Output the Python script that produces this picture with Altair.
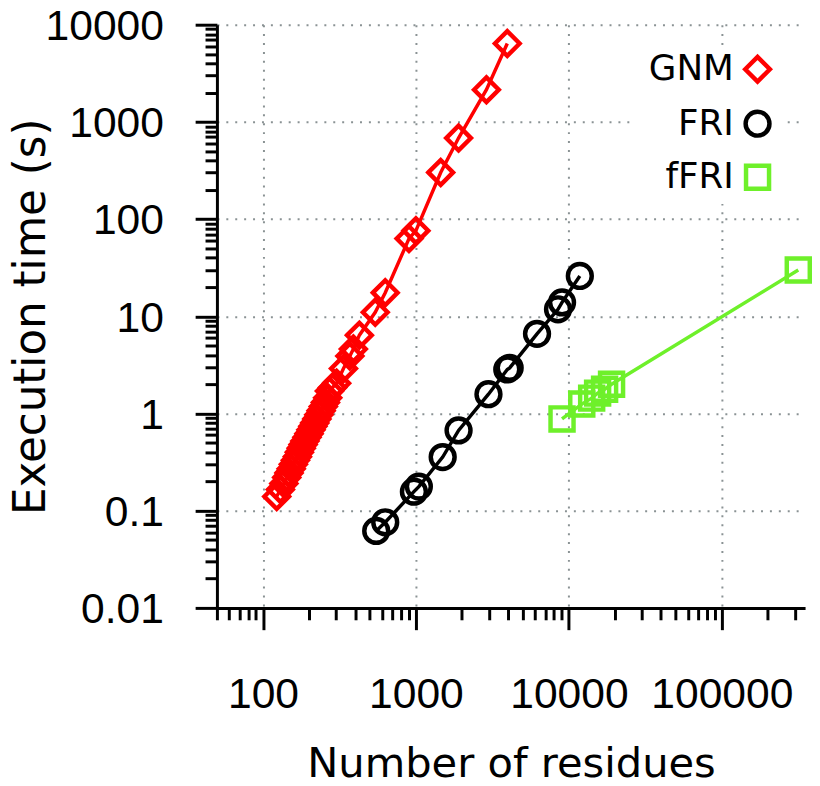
import altair as alt
import pandas as pd

# ---- data ----
series_names = ["GNM", "FRI", "fFRI"]
series_colors = ["#ff0000", "#000000", "#6ef02a"]
series_shapes = ["diamond", "circle", "square"]
series_sizes = [620, 540, 540]

gnm_n = [123, 130, 137, 143, 148, 153, 158, 163, 168, 173, 178, 183, 188, 194, 200,
         206, 212, 218, 225, 232, 240, 248, 256, 265, 272, 285, 303, 336, 370, 390,
         427, 542, 630, 901, 1000, 1452, 1900, 2890, 3955]
gnm_t = [0.14, 0.165, 0.19, 0.22, 0.245, 0.27, 0.30, 0.33, 0.36, 0.40, 0.44, 0.48, 0.52,
         0.57, 0.62, 0.68, 0.74, 0.80, 0.88, 0.97, 1.07, 1.18, 1.30, 1.45, 1.70, 1.85,
         2.05, 2.9, 3.9, 4.6, 6.4, 11, 17.5, 63, 76, 302, 682, 2143, 6410]

fri_n = [550, 630, 970, 1045, 1496, 1900, 2980, 3956, 4100, 6190, 8490, 9020, 11790]
fri_t = [0.062, 0.076, 0.157, 0.177, 0.356, 0.67, 1.58, 2.84, 2.95, 6.6, 11.8, 13.9, 26]

ffri_n = [9020, 12140, 14090, 15410, 17120, 19010, 316000]
ffri_t = [0.88, 1.25, 1.44, 1.62, 1.78, 2.0, 29.9]

x_major = [100, 1000, 10000, 100000]
x_minor = [50, 60, 70, 80, 90,
           200, 300, 400, 500, 600, 700, 800, 900,
           2000, 3000, 4000, 5000, 6000, 7000, 8000, 9000,
           20000, 30000, 40000, 50000, 60000, 70000, 80000, 90000,
           200000, 300000]
y_major = [0.01, 0.1, 1, 10, 100, 1000, 10000]
y_minor = [m * d for d in [0.01, 0.1, 1, 10, 100, 1000] for m in range(2, 10)]

rows = []
for name, ns, ts in [("GNM", gnm_n, gnm_t), ("FRI", fri_n, fri_t), ("fFRI", ffri_n, ffri_t)]:
    for n, t in zip(ns, ts):
        rows.append({"series": name, "n": n, "t": t})
df = pd.DataFrame(rows)

xscale = alt.Scale(type="log", domain=[50, 350000], nice=False)
yscale = alt.Scale(type="log", domain=[0.01, 10000], nice=False)

LABEL_FONT = "Liberation Sans"
TITLE_FONT = "DejaVu Sans"

x_major_axis = alt.Axis(
    orient="bottom", values=x_major, format="~g", grid=True,
    gridColor="#8a9294", gridDash=[2, 7], gridWidth=2,
    tickSize=22, tickWidth=3, tickColor="black",
    domainColor="black", domainWidth=3,
    labelFont=LABEL_FONT, labelFontSize=43, labelColor="black", labelPadding=45,
    labelFlush=False, labelOverlap=False,
    title="Number of residues", titleFont=TITLE_FONT, titleFontSize=42,
    titleFontWeight="normal", titleColor="black", titlePadding=27,
)
y_major_axis = alt.Axis(
    orient="left", values=y_major, format="~g", grid=True,
    gridColor="#8a9294", gridDash=[2, 7], gridWidth=2,
    tickSize=22, tickWidth=3, tickColor="black",
    domainColor="black", domainWidth=3,
    labelFont=LABEL_FONT, labelFontSize=43, labelColor="black", labelPadding=32,
    labelFlush=False, labelOverlap=False, labelOffset=2,
    title="Execution time (s)", titleFont=TITLE_FONT, titleFontSize=44,
    titleFontWeight="normal", titleColor="black", titlePadding=-8,
)
x_minor_axis = alt.Axis(
    orient="bottom", values=x_minor, labels=False, grid=False, domain=False,
    tickSize=12, tickWidth=3, tickColor="black", title=None,
)
y_minor_axis = alt.Axis(
    orient="left", values=y_minor, labels=False, grid=False, domain=False,
    tickSize=12, tickWidth=3, tickColor="black", title=None,
)

legend_spec = alt.Legend(
    title=None, orient="none", legendX=422, legendY=21,
    labelAlign="right", labelOffset=alt.ExprRef(expr="-42"), symbolOffset=100,
    labelFont=TITLE_FONT, labelFontSize=36, labelColor="black",
    symbolSize=480, symbolStrokeWidth=4.5, symbolFillColor="transparent",
    rowPadding=11, fillColor="white", padding=6, labelLimit=300,
)
color_scale = alt.Scale(domain=series_names, range=series_colors)
shape_scale = alt.Scale(domain=series_names, range=series_shapes)
size_scale = alt.Scale(domain=series_names, range=series_sizes)

points = alt.Chart(df).mark_point(filled=False, strokeWidth=4.5, opacity=1).encode(
    x=alt.X("n:Q", scale=xscale, axis=x_major_axis),
    y=alt.Y("t:Q", scale=yscale, axis=y_major_axis),
    color=alt.Color("series:N", scale=color_scale, legend=legend_spec),
    shape=alt.Shape("series:N", scale=shape_scale, legend=legend_spec),
    size=alt.Size("series:N", scale=size_scale, legend=None),
)

lines = alt.Chart(df).mark_line(strokeWidth=3.5).encode(
    x=alt.X("n:Q", scale=xscale, axis=None),
    y=alt.Y("t:Q", scale=yscale, axis=None),
    color=alt.Color("series:N", scale=color_scale, legend=legend_spec),
    order="n:Q",
    detail="series:N",
)

minor = alt.Chart(df).mark_point(opacity=0).encode(
    x=alt.X("n:Q", scale=xscale, axis=x_minor_axis),
    y=alt.Y("t:Q", scale=yscale, axis=y_minor_axis),
)

chart = alt.layer(points, lines, minor).resolve_axis(
    x="independent", y="independent"
).properties(
    width=594, height=589,
    autosize=alt.AutoSizeParams(type="none"),
    padding={"left": 211, "top": 13, "right": 7, "bottom": 176},
    background="white",
).configure_view(stroke=None)

chart.save("out.html", embed_options={"renderer": "svg", "actions": False})
